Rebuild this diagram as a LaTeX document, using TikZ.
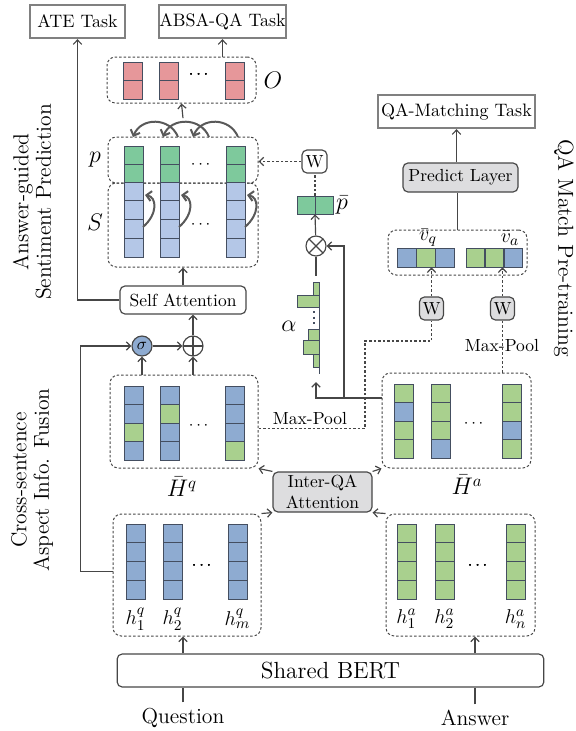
\documentclass[tikz,border=0pt]{standalone}
\usepackage{amsmath,amssymb}
\usepackage{xcolor}
\usepackage{tikz}
\usetikzlibrary{positioning,calc,fit,arrows.meta}

\definecolor{qblue}{RGB}{142,171,209}
\definecolor{agreen}{RGB}{169,208,142}
\definecolor{sblue}{RGB}{180,199,231}
\definecolor{pgreen}{RGB}{126,201,156}
\definecolor{ored}{RGB}{230,151,154}
\definecolor{boxgray}{RGB}{221,221,223}
\definecolor{cellline}{RGB}{68,78,96}
\definecolor{linegray}{RGB}{70,70,70}

\tikzset{
    cell/.style={draw=cellline, line width=0.6pt},
    groupbox/.style={draw=linegray, dash pattern=on 1.5pt off 1.2pt, line width=0.6pt, rounded corners=5pt, inner sep=0pt},
    taskbox/.style={draw=black!50, line width=1.4pt, inner sep=0pt, minimum height=19.8pt, font=\fontsize{10.8}{13}\selectfont},
    opbox/.style={draw=linegray, line width=0.7pt, rounded corners=3pt, inner sep=0pt, font=\fontsize{10.5}{12.5}\selectfont},
    arr/.style={draw=linegray, line width=0.7pt, -{Straight Barb[length=2.6pt,width=5pt]}},
    dline/.style={draw=linegray, line width=0.7pt, dash pattern=on 1.5pt off 1.2pt},
    darr/.style={arr, dash pattern=on 1.5pt off 1.2pt},
    carc/.style={draw=black!65, line width=1.2pt, -{Straight Barb[length=3pt,width=6pt]}},
    opnode/.style={circle, draw=linegray, line width=0.7pt, minimum size=12pt, inner sep=0pt},
    plusmark/.style={path picture={\draw[linegray, line width=0.7pt] (path picture bounding box.north) -- (path picture bounding box.south) (path picture bounding box.west) -- (path picture bounding box.east);}},
    timesmark/.style={path picture={\draw[linegray, line width=0.7pt] (path picture bounding box.north west) -- (path picture bounding box.south east) (path picture bounding box.north east) -- (path picture bounding box.south west);}},
    sidefont/.style={font=\fontsize{13}{13.5}\selectfont},
    bigfont/.style={font=\fontsize{14}{16}\selectfont},
    symlab/.style={font=\fontsize{14}{16}\selectfont, inner sep=1pt},
    sublab/.style={font=\fontsize{12.5}{14}\selectfont, inner sep=1pt},
    poolfont/.style={font=\fontsize{10.5}{12}\selectfont, inner sep=1pt},
}

% one vector of cells: left x, top y, cell height, colours
\newcommand{\vcol}[4]{\foreach \c [count=\i from 0] in {#4} \draw[cell, fill=\c] (#1,#2+\i*#3) rectangle ++(19,#3);}

\begin{document}
\begin{tikzpicture}[x=0.6pt, y=-0.6pt]
    \useasboundingbox (0,0) rectangle (576,731);

    % Side titles
    \node[sidefont, rotate=90, align=center] (sidetop) at (32,202) {Answer-guided\\Sentiment Prediction};
    \node[sidefont, rotate=90, align=center] (sidebot) at (32,480) {Cross-sentence\\Aspect Info. Fusion};
    \node[sidefont, rotate=-90] (sideright) at (564,248) {QA Match Pre-training};

    % Tasks
    \node[taskbox, minimum width=57pt] (ate) at (77.5,21.5) {ATE Task};
    \node[taskbox, minimum width=75pt] (absa) at (222.5,21.5) {ABSA-QA Task};
    \node[taskbox, minimum width=94pt] (qam) at (456.5,111.5) {QA-Matching Task};

    % Output O
    \node[groupbox, fit={(107,57) (256,103)}] (obox) {};
    \foreach \x in {123,159,225} \vcol{\x}{62}{18.5}{ored,ored}
    \node (odots) at (200,75) {$\cdots$};
    \node[symlab] (olab) at (273,80) {$O$};
    \draw[arr] (absa.south |- obox.north) -- (absa.south);

    % P and S
    \node[groupbox, fit={(108,137) (258,183)}] (pbox) {};
    \node[groupbox, fit={(108,183) (258,267)}] (sbox) {};
    \foreach \x in {124,160,226} {
        \vcol{\x}{146}{18}{pgreen,pgreen}
        \vcol{\x}{182}{18.75}{sblue,sblue,sblue,sblue}
        \draw[carc] (\x+19,227) .. controls (\x+34,214) and (\x+33,197) .. (\x+21,195);
    }
    \node (pdots) at (202,165) {$\cdots$};
    \node (sdots) at (202,225) {$\cdots$};
    \node[symlab] (plab) at (95,160) {$p$};
    \node[symlab] (slab) at (95,222) {$S$};
    \draw[carc] (178,137) .. controls (170,117) and (141,117) .. (133,137);
    \draw[carc] (209,137) .. controls (201,117) and (171,117) .. (163,137);
    \draw[carc] (238,137) .. controls (230,117) and (201,117) .. (193,137);
    \draw[arr] ([yshift=11pt]pbox.north) -- (obox.south);

    % Self attention and gate
    \node[opbox, minimum width=75.6pt, minimum height=16.8pt] (selfatt) at (183,300) {Self Attention};
    \draw[arr] (selfatt.north) -- (sbox.south);
    \draw[arr] (selfatt.west) -| (ate.south);
    \node[opnode, fill=qblue] (sigma) at (142,346) {$\sigma$};
    \node[opnode, plusmark] (oplus) at (193,346) {};
    \draw[arr] (sigma) -- (oplus);
    \draw[arr] (oplus) -- (oplus |- selfatt.south);

    % Fused question
    \node[groupbox, fit={(110,375) (258,468)}] (hqbar) {};
    \vcol{124}{386}{18.5}{qblue,qblue,agreen,qblue}
    \vcol{160}{386}{18.5}{qblue,agreen,qblue,qblue}
    \vcol{225}{386}{18.5}{qblue,qblue,qblue,agreen}
    \node (hqbardots) at (200,426) {$\cdots$};
    \node[symlab] (hqbarlab) at (182,487) {$\bar{H}^q$};
    \draw[arr] (sigma |- hqbar.north) -- (sigma);
    \draw[arr] (oplus |- hqbar.north) -- (oplus);

    % Fused answer
    \node[groupbox, fit={(382,373) (531,468)}] (habar) {};
    \vcol{394}{384}{18.5}{agreen,qblue,agreen,agreen}
    \vcol{431}{384}{18.5}{agreen,agreen,agreen,qblue}
    \vcol{502}{384}{18.5}{agreen,agreen,qblue,agreen}
    \node (habardots) at (475,424) {$\cdots$};
    \node[symlab] (habarlab) at (467,485) {$\bar{H}^a$};

    % Attention weights
    \foreach \xl/\yt/\yb in {313/282/295, 297/295/307, 308/329/340, 303/340/354, 313/354/367}
        \draw[cell, fill=agreen] (\xl,\yt) rectangle (319,\yb);
    \draw[cellline, line width=0.6pt] (319,282) -- (319,374);
    \draw[cellline, line width=1.3pt, dotted] (314,311) -- (314,327);
    \node[symlab] (alphalab) at (289,326) {$\alpha$};
    \coordinate (alphatop) at (316,276);
    \coordinate (alphabot) at (316,382);
    \coordinate (poolsplit) at (344,398);

    % Pooled answer aspect
    \node[opnode, timesmark] (otimes) at (316,246) {};
    \node[fit={(297,196) (333,214)}, inner sep=0pt] (pbar) {};
    \foreach \x in {297,315} \draw[cell, fill=pgreen] (\x,196) rectangle ++(18,18);
    \node[symlab] (pbarlab) at (342,205) {$\bar{p}$};
    \node[opbox, fill=white, minimum width=15pt, minimum height=13.8pt] (wtop) at (314.5,161.5) {W};
    \draw[arr] ([yshift=13.5pt]habar.west) -| (alphabot);
    \draw[arr] (poolsplit) |- (otimes);
    \draw[linegray, line width=0.7pt] (otimes) -- (alphatop);
    \draw[arr] (otimes) -- (pbar.south);
    \draw[dline] (pbar.north) -- (pbar.north |- wtop.south);
    \draw[darr] (wtop) -- (wtop -| pbox.east);

    % QA matching
    \node[opbox, fill=boxgray, minimum width=14.4pt, minimum height=13.8pt] (w1) at (431.5,308.5) {W};
    \node[opbox, fill=boxgray, minimum width=14.4pt, minimum height=13.8pt] (w2) at (502.5,308.5) {W};
    \node[groupbox, fit={(388,230) (527,275)}] (vbox) {};
    \node[fit={(397,248) (454,267)}, inner sep=0pt] (vq) {};
    \node[fit={(466,248) (522,267)}, inner sep=0pt] (va) {};
    \foreach \x/\c in {397/qblue, 416/agreen, 435/qblue} \draw[cell, fill=\c] (\x,248) rectangle ++(19,19);
    \foreach \x/\c in {466/agreen, 485/agreen, 504/qblue} \draw[cell, fill=\c] (\x,248) rectangle ++(18.5,19);
    \node[sublab] (vqlab) at (428,238) {$\bar{v}_q$};
    \node[sublab] (valab) at (510,238) {$\bar{v}_a$};
    \node[opbox, fill=boxgray, minimum width=69pt, minimum height=17.4pt] (predict) at (460.5,177.5) {Predict Layer};
    \draw[darr] (w1) -- (w1 |- vq.south);
    \draw[darr] (w2) -- (w2 |- va.south);
    \draw[linegray, line width=0.7pt] (vbox.north) -- (vbox.north |- predict.south);
    \draw[arr] (predict.north -| qam) -- (qam.south);

    % Max pooling
    \coordinate (mpturn) at (365,341);
    \draw[dline] ([yshift=-4pt]hqbar.east) -| (mpturn) -| (w1.south);
    \node[poolfont] (mplq) at (310,419) {Max-Pool};
    \draw[dline] (habar.north -| w2) -- (w2.south);
    \node[poolfont] (mpla) at (502,346) {Max-Pool};

    % Inter-QA attention
    \node[opbox, fill=boxgray, minimum width=59.4pt, minimum height=24pt, align=center] (interqa) at (322.5,492) {Inter-QA\\Attention};
    \draw[arr] (interqa.north west) -- (hqbar.south east);
    \draw[arr] (interqa.north east) -- (habar.south west);

    % Encoder outputs
    \node[groupbox, fit={(113,514) (261,636)}] (hq) {};
    \foreach \x in {126,163,228} \vcol{\x}{524}{18.75}{qblue,qblue,qblue,qblue}
    \node (hqdots) at (203,566) {$\cdots$};
    \node[sublab] (hq1) at (135.5,619) {$h^q_1$};
    \node[sublab] (hq2) at (172.5,619) {$h^q_2$};
    \node[sublab] (hqm) at (237.5,619) {$h^q_m$};
    \node[groupbox, fit={(386,514) (535,636)}] (ha) {};
    \foreach \x in {397,435,506} \vcol{\x}{524}{18.75}{agreen,agreen,agreen,agreen}
    \node (hadots) at (479,566) {$\cdots$};
    \node[sublab] (ha1) at (406.5,619) {$h^a_1$};
    \node[sublab] (ha2) at (444.5,619) {$h^a_2$};
    \node[sublab] (han) at (515.5,619) {$h^a_n$};
    \draw[arr] (hq.north east) -- (interqa.south west);
    \draw[arr] (ha.north west) -- (interqa.south east);
    \draw[arr] ([yshift=2pt]hq.west) -- ++(-32,0) |- (sigma);

    % Shared encoder
    \node[opbox, bigfont, minimum width=256pt, minimum height=19.8pt] (bert) at (330.5,670.5) {Shared BERT};
    \node[sidefont] (question) at (183,718) {Question};
    \node[sidefont] (answer) at (475,718) {Answer};
    \draw[linegray, line width=0.7pt] (question) -- (question |- bert.south);
    \draw[linegray, line width=0.7pt] (answer) -- (answer |- bert.south);
    \draw[arr] (question |- bert.north) -- (question |- hq.south);
    \draw[arr] (answer |- bert.north) -- (answer |- ha.south);
\end{tikzpicture}
\end{document}
